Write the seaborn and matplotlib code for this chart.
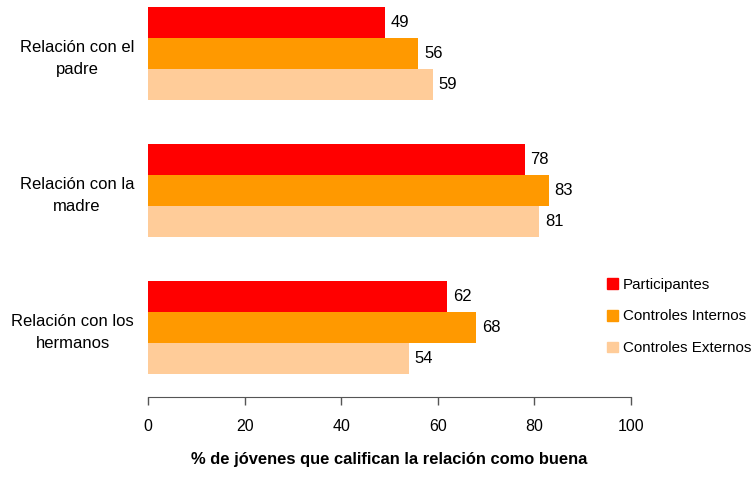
import pandas as pd
import matplotlib
matplotlib.use("Agg")
import matplotlib.pyplot as plt
import seaborn as sns

# data
categorias = ["Relación con el\npadre", "Relación con la\nmadre", "Relación con los\nhermanos"]
grupos = ["Participantes", "Controles Internos", "Controles Externos"]
participantes = [49, 78, 62]
controles_internos = [56, 83, 68]
controles_externos = [59, 81, 54]
colores = ["#FF0000", "#FF9900", "#FFCC99"]

df = pd.DataFrame({
    "categoria": categorias * 3,
    "grupo": [g for g in grupos for _ in categorias],
    "valor": participantes + controles_internos + controles_externos,
})

sns.set_style("white")
plt.rcParams["font.family"] = ["Liberation Sans", "DejaVu Sans"]
plt.rcParams["text.color"] = "black"
plt.rcParams["axes.labelcolor"] = "black"

fig = plt.figure(figsize=(7.54, 4.97), dpi=100)
ax = fig.add_axes([0.1963, 0.2012, 0.6406, 0.7847])

sns.barplot(data=df, y="categoria", x="valor", hue="grupo", orient="h",
            palette=colores, width=0.68, saturation=1, linewidth=0,
            ax=ax, legend=False)

for cont in ax.containers:
    ax.bar_label(cont, padding=4, fontsize=12, color="black")

ax.set_xlim(0, 100)
ax.set_ylim(2.507, -0.34)
ax.set_xticks([0, 20, 40, 60, 80, 100])
ax.set_xlabel("% de jóvenes que califican la relación como buena",
              fontsize=11.9, fontweight="bold", labelpad=13, color="black")
ax.set_ylabel("")

for s in ["top", "right", "left"]:
    ax.spines[s].set_visible(False)
ax.spines["bottom"].set_color("#555555")
ax.tick_params(axis="x", direction="out", length=6, width=1, color="#555555",
               labelcolor="black", labelsize=11.5, pad=10, bottom=True)
ax.tick_params(axis="y", length=0, labelsize=12, pad=10, labelcolor="black")
for lbl in ax.get_yticklabels():
    lbl.set_multialignment("center")
    lbl.set_linespacing(1.6)

handles = [plt.Rectangle((0, 0), 1, 1, color=c) for c in colores]
fig.legend(handles, grupos, loc="upper left", bbox_to_anchor=(0.787, 0.469),
           frameon=False, fontsize=10.9, handlelength=0.72, handleheight=0.72,
           handletextpad=0.33, labelspacing=1.18, labelcolor="black")

fig.savefig("out.png", dpi=100)
